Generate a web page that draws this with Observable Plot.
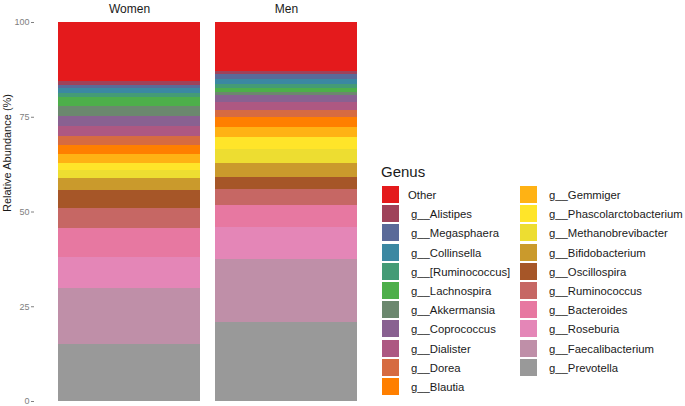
<!DOCTYPE html>
<html><head><meta charset="utf-8">
<script src="https://cdn.jsdelivr.net/npm/d3@7"></script>
<script src="https://cdn.jsdelivr.net/npm/@observablehq/plot@0.6"></script>
<style>
body{margin:0;background:#fff;font-family:"Liberation Sans",Arial,sans-serif;}
#wrap{position:relative;width:685px;height:406px;overflow:hidden;background:#fff;}
#chart{position:absolute;left:0;top:0;}
.lg-title{position:absolute;left:381px;top:164px;font-size:15px;line-height:15px;color:#1a1a1a;white-space:nowrap;}
.lg-sw{position:absolute;width:17px;height:17px;}
.lg-tx{position:absolute;font-size:11.3px;line-height:18.5px;color:#1a1a1a;white-space:nowrap;}
</style></head><body>
<div id="wrap"><div id="chart"></div></div>
<script>
const groups = ["Women", "Men"];
const genera = ["Other", "g__Alistipes", "g__Megasphaera", "g__Collinsella", "g__[Ruminococcus]",
  "g__Lachnospira", "g__Akkermansia", "g__Coprococcus", "g__Dialister", "g__Dorea", "g__Blautia",
  "g__Gemmiger", "g__Phascolarctobacterium", "g__Methanobrevibacter", "g__Bifidobacterium",
  "g__Oscillospira", "g__Ruminococcus", "g__Bacteroides", "g__Roseburia", "g__Faecalibacterium",
  "g__Prevotella"];
const women = [15.6, 1.0, 0.9, 1.3, 1.1, 2.2, 2.7, 2.6, 2.6, 2.4, 2.4, 2.3, 1.9, 2.2, 3.1, 4.9, 5.1, 7.6, 8.2, 14.9, 15.0];
const men   = [12.8, 0.9, 1.3, 1.4, 0.9, 1.2, 0.8, 1.9, 2.0, 1.9, 2.6, 2.6, 3.1, 3.9, 3.6, 3.2, 4.2, 5.9, 8.4, 16.5, 20.9];
const yTicks = [0, 25, 50, 75, 100];
const yLabel = "Relative Abundance (%)";
const legendTitle = "Genus";
const palette = ["#E41A1C", "#9F425A", "#5A6A99", "#3B88A2", "#449B76", "#4DAF4A", "#6B886E",
  "#896191", "#AD5882", "#D66B41", "#FF7F00", "#FFB214", "#FFE529", "#EDDD31", "#CA9A2C",
  "#A65628", "#C66764", "#E778A1", "#E486B7", "#BF8FA8", "#999999"];

const data = [];
genera.forEach((g, i) => {
  data.push({sex: "Women", genus: g, value: women[i]});
  data.push({sex: "Men", genus: g, value: men[i]});
});

const plot = Plot.plot({
  width: 375, height: 406,
  marginTop: 22, marginBottom: 5, marginLeft: 58, marginRight: 17,
  style: {fontFamily: "'Liberation Sans', Arial, sans-serif", background: "transparent"},
  x: {domain: groups, paddingInner: 0.095, paddingOuter: 0, axis: null},
  y: {domain: [0, 100], axis: null},
  color: {domain: genera, range: palette},
  marks: [
    Plot.barY(data, {x: "sex", y: "value", fill: "genus", order: genera.slice().reverse(), shapeRendering: "crispEdges"}),
    Plot.axisX({anchor: "top", tickSize: 0, tickPadding: 10, fontSize: 12, color: "#1a1a1a", label: null}),
    Plot.axisY({ticks: yTicks, tickSize: 3, tickPadding: 2, dx: -24, fontSize: 9, color: "#808080", label: null}),
    Plot.text([yLabel], {frameAnchor: "left", rotate: -90, dx: -51, fontSize: 11, fill: "#1a1a1a"})
  ]
});
document.getElementById("chart").appendChild(plot);

const wrap = document.getElementById("wrap");
const t = document.createElement("div");
t.className = "lg-title"; t.textContent = legendTitle; wrap.appendChild(t);
genera.forEach((g, i) => {
  const col = i < 11 ? 0 : 1;
  const row = i < 11 ? i : i - 11;
  const top = 186 + row * 19.2;
  const sw = document.createElement("div");
  sw.className = "lg-sw";
  sw.style.left = (col ? 520 : 382) + "px";
  sw.style.top = top + "px";
  sw.style.background = palette[i];
  wrap.appendChild(sw);
  const tx = document.createElement("div");
  tx.className = "lg-tx";
  tx.style.left = ((col ? 546 : 408) + (g.startsWith("g__") ? 3 : 0)) + "px";
  tx.style.top = top + "px";
  tx.textContent = g;
  wrap.appendChild(tx);
});
</script>
</body></html>
